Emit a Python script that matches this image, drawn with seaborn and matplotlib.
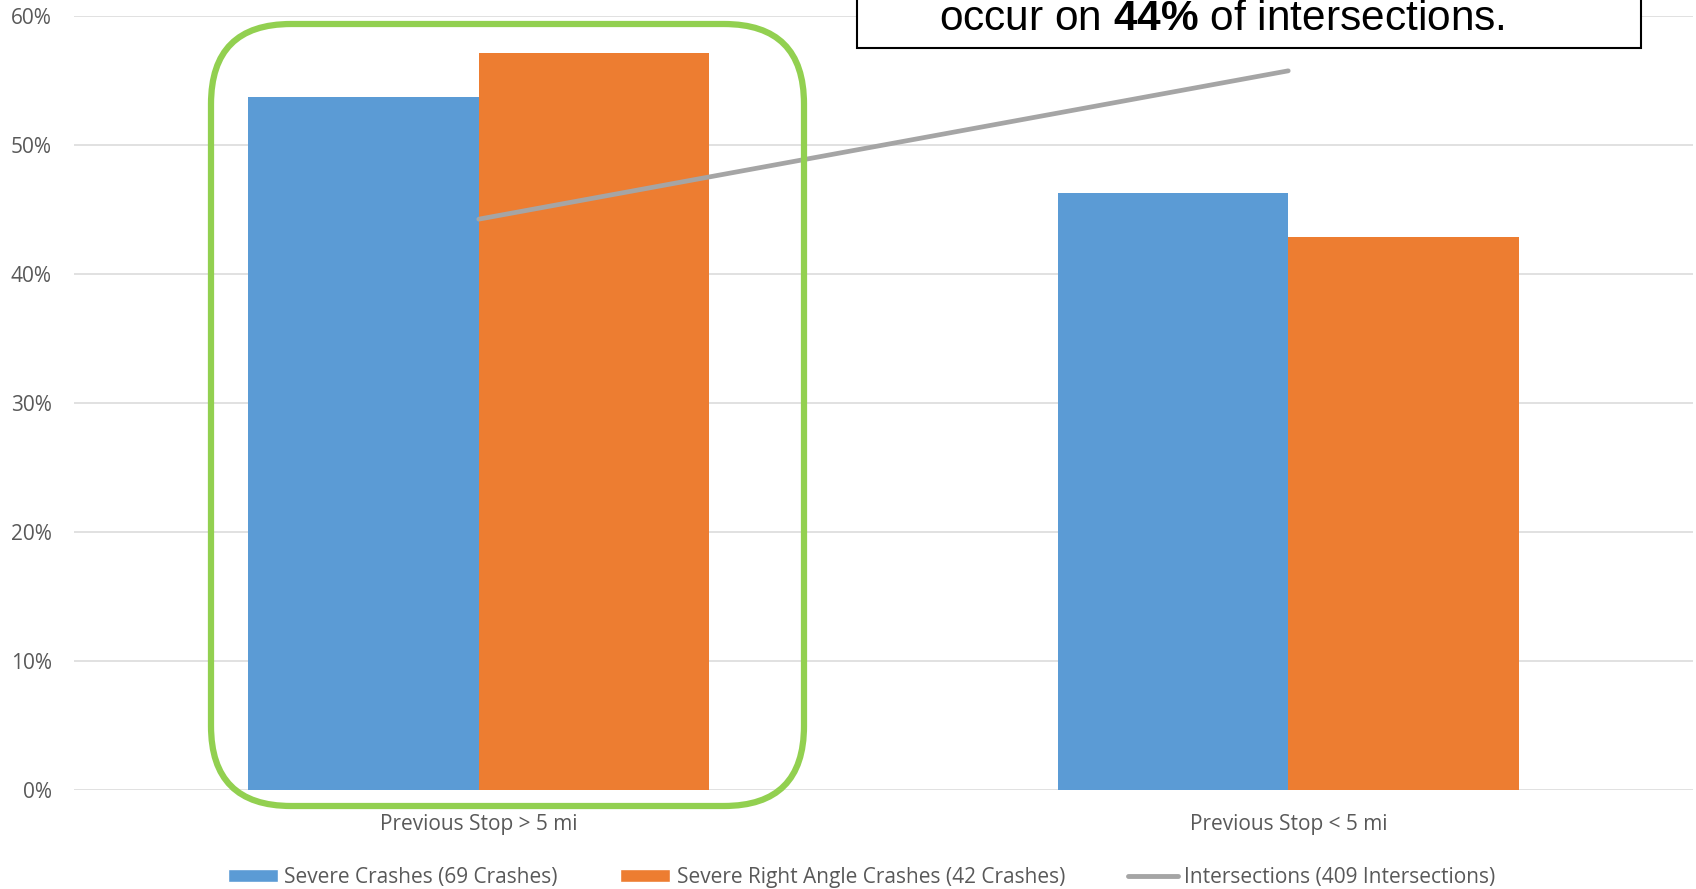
import matplotlib
matplotlib.use("Agg")
import matplotlib.pyplot as plt
import seaborn as sns
import pandas as pd
from matplotlib.patches import Rectangle, FancyBboxPatch, Patch
from matplotlib.lines import Line2D
from matplotlib.ticker import PercentFormatter

categories = ["Previous Stop > 5 mi", "Previous Stop < 5 mi"]
series_names = ["Severe Crashes (69 Crashes)", "Severe Right Angle Crashes (42 Crashes)"]
severe = [53.7, 46.3]
severe_right_angle = [57.1, 42.9]
intersections = [44.25, 55.75]
line_name = "Intersections (409 Intersections)"
yticks = [0, 10, 20, 30, 40, 50, 60]

sns.set_theme(style="white")
plt.rcParams['font.family'] = ['Open Sans', 'DejaVu Sans']
plt.rcParams['mathtext.fontset'] = 'custom'
plt.rcParams['mathtext.rm'] = 'Liberation Sans'
plt.rcParams['mathtext.bf'] = 'Liberation Sans:bold'

df = pd.DataFrame({
    "cat": categories * 2,
    "series": [series_names[0]] * 2 + [series_names[1]] * 2,
    "val": severe + severe_right_angle,
})

fig = plt.figure(figsize=(16.96, 8.89), dpi=100)
ax = fig.add_axes([74 / 1696, 99 / 889, (1693 - 74) / 1696, (790 - 16) / 889])

colors = ["#5B9BD5", "#ED7D31"]
sns.barplot(data=df, x="cat", y="val", hue="series", palette=colors,
            width=0.57, gap=0, ax=ax, legend=False, saturation=1, linewidth=0)
sns.lineplot(x=[0, 1], y=intersections, color="#A5A5A5", lw=3.4, ax=ax, zorder=5)

ax.set_xlim(-0.5, 1.5)
ax.set_ylim(0, 60)
ax.set_yticks(yticks)
ax.yaxis.set_major_formatter(PercentFormatter(decimals=0))
ax.grid(axis="y", color="#D9D9D9", lw=1.1)
ax.set_axisbelow(True)
for s in ax.spines.values():
    s.set_visible(False)
ax.tick_params(axis="both", length=0, labelsize=15, colors="#595959")
ax.tick_params(axis="y", pad=16)
ax.tick_params(axis="x", pad=17)
ax.set_xlabel("")
ax.set_ylabel("")

handles = [Patch(facecolor=colors[0]), Patch(facecolor=colors[1]),
           Line2D([0], [0], color="#A5A5A5", lw=3.5)]
labels = series_names + [line_name]
leg = fig.legend(handles, labels, loc="center", bbox_to_anchor=(0.508, 0.013), ncol=3,
                 frameon=False, fontsize=15, handlelength=2.4, handleheight=0.6,
                 handletextpad=0.3, columnspacing=3.0, labelcolor="#595959")

# green highlight rounded box
green = FancyBboxPatch((2.11, 0.83), 5.93, 7.82,
                       boxstyle="round,pad=0,rounding_size=0.8",
                       transform=fig.dpi_scale_trans, fill=False,
                       edgecolor="#92D050", lw=4.5, zorder=10)
fig.patches.append(green)

# callout box (partially cut off at top)
box = Rectangle((857 / 1696, (889 - 48) / 889), 784 / 1696, 0.2,
                transform=fig.transFigure, facecolor="white",
                edgecolor="black", lw=1.5, zorder=11)
fig.patches.append(box)
fig.text(1222 / 1696, (889 - 30) / 889, r"occur on $\mathbf{44\%}$ of intersections.",
         ha="center", va="baseline", fontsize=30.5, family="Liberation Sans",
         color="black", zorder=12)

fig.savefig("out.png", dpi=100)
